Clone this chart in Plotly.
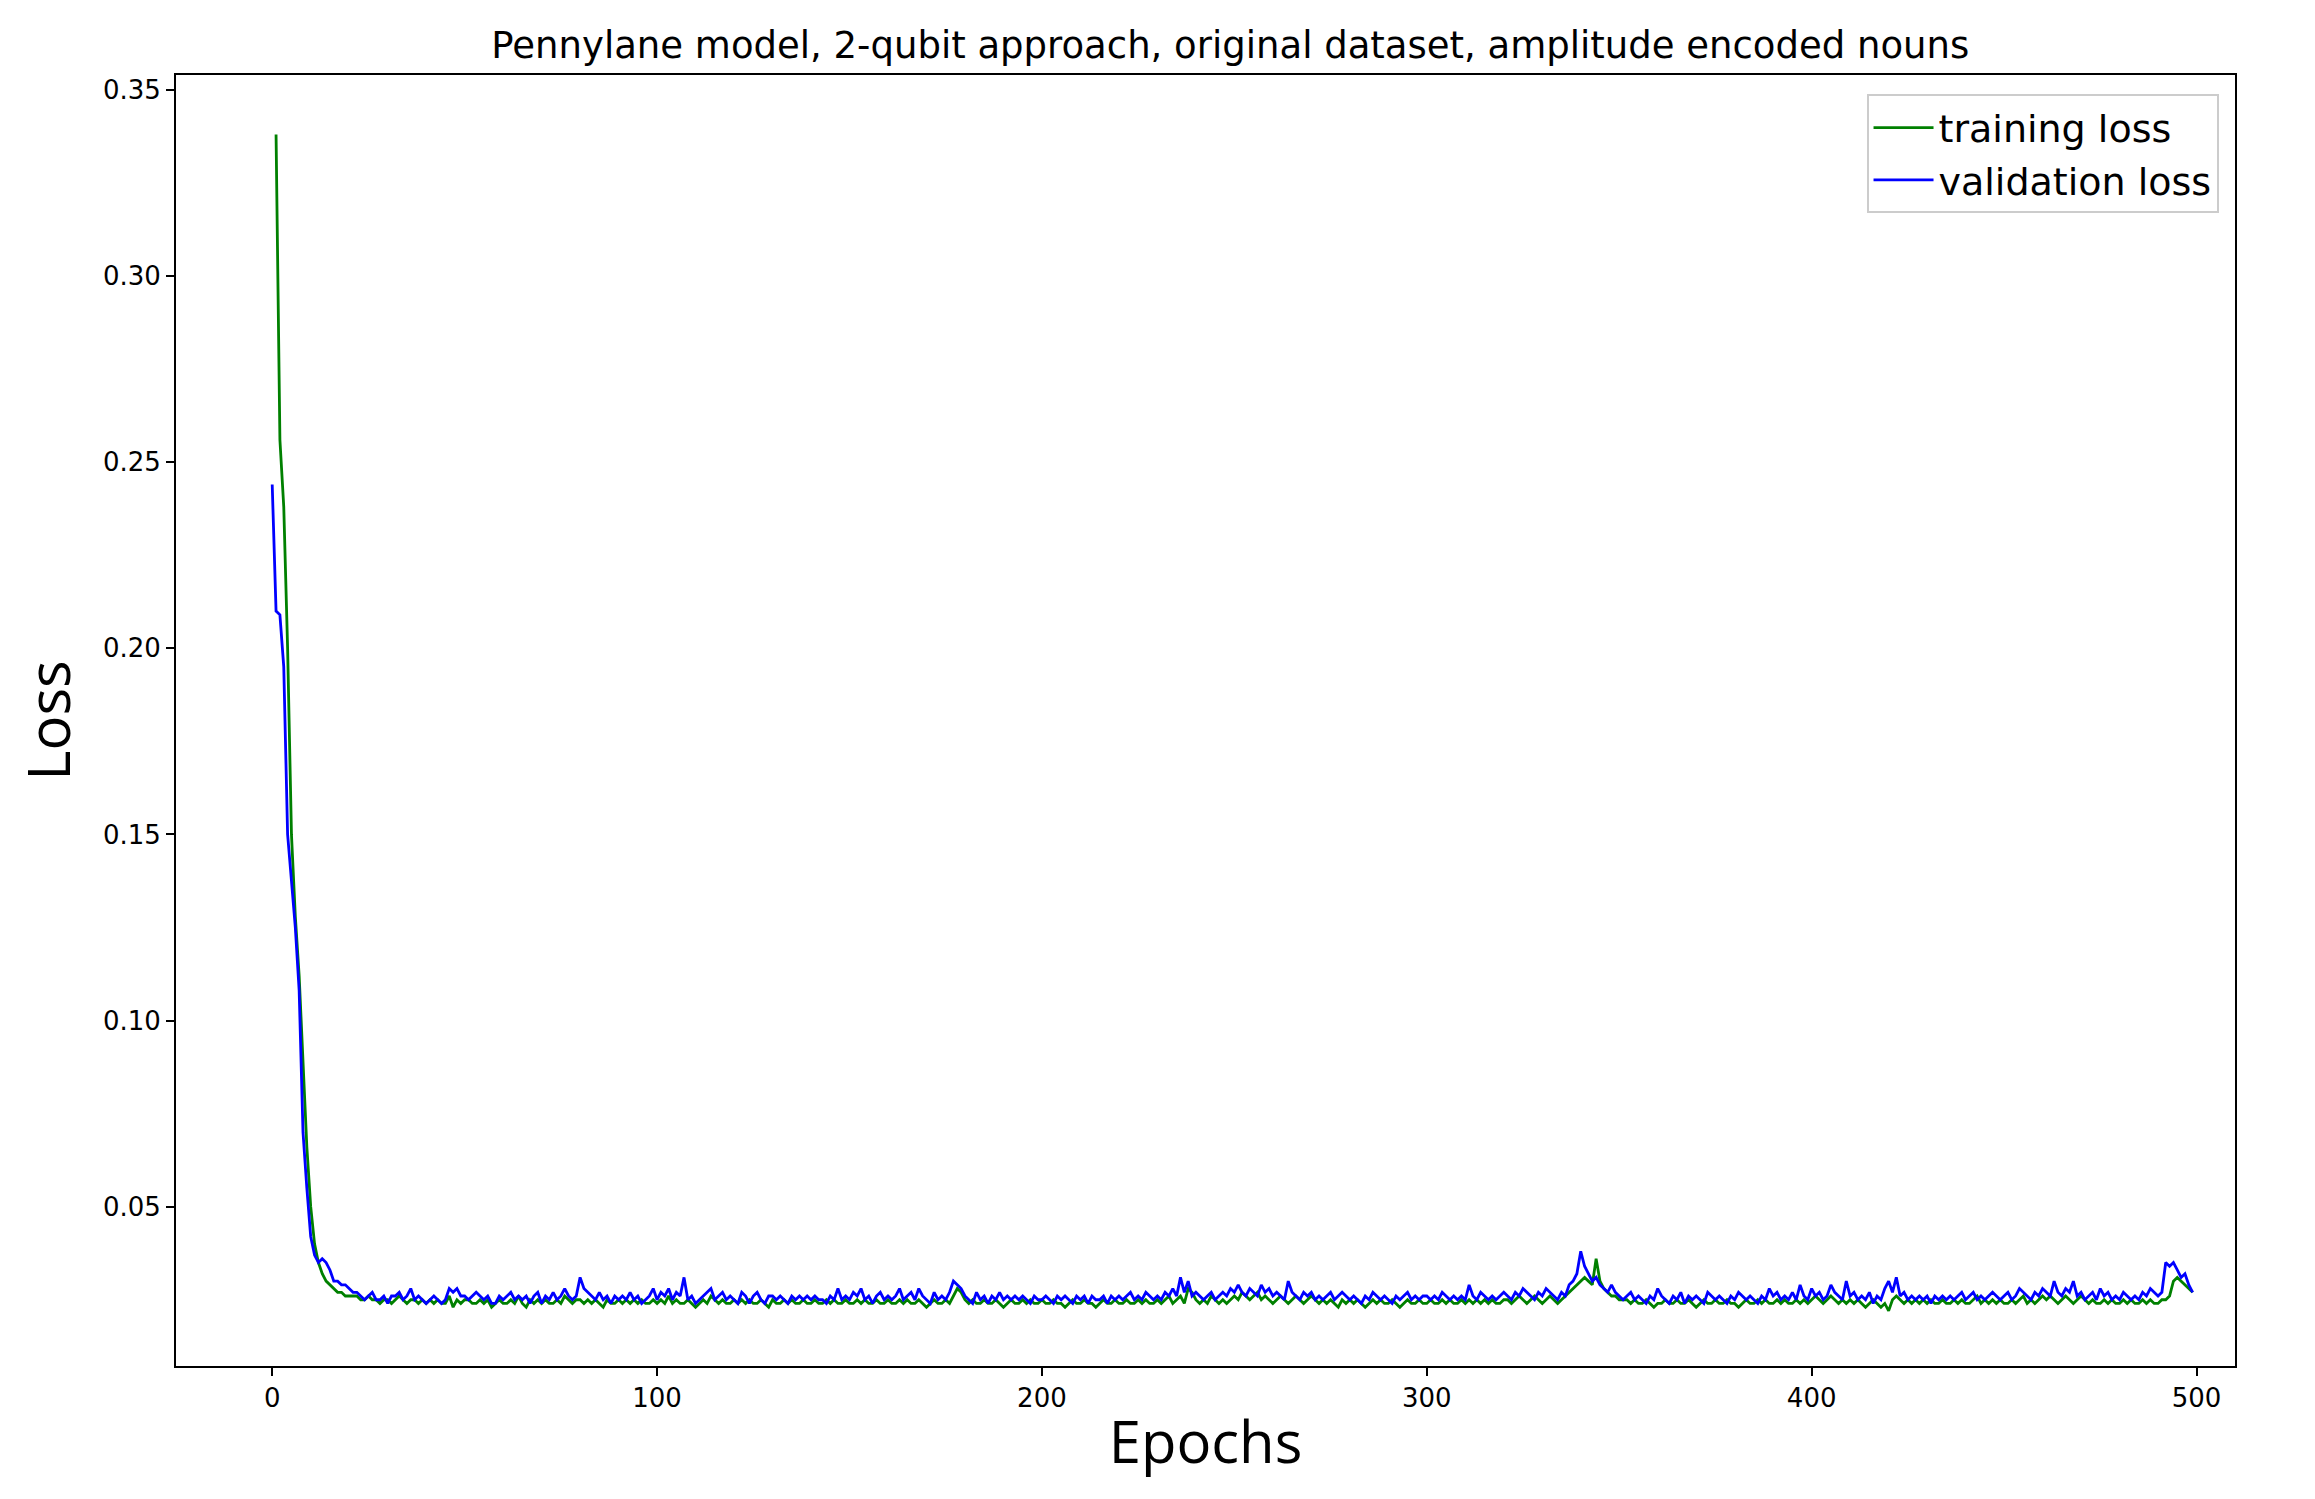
import plotly.graph_objects as go

# losses in thousandths
train_milli = [
    338, 256, 238, 200, 150, 128, 112, 90, 66, 50, 40, 35, 32, 30, 29, 28, 27, 27, 26, 26,
    26, 26, 25, 25, 26, 25, 25, 24, 25, 25, 24, 25, 26, 25, 24, 25, 25, 24, 25, 24,
    25, 24, 25, 24, 24, 26, 23, 25, 24, 25, 25, 24, 24, 25, 24, 25, 23, 24, 25, 24,
    24, 25, 24, 26, 24, 23, 25, 24, 25, 24, 25, 24, 24, 25, 24, 26, 25, 24, 25, 25,
    24, 25, 24, 25, 24, 23, 25, 24, 24, 25, 24, 25, 24, 25, 24, 25, 24, 24, 25, 24,
    25, 24, 26, 24, 25, 24, 24, 25, 24, 23, 24, 25, 24, 26, 25, 24, 25, 24, 24, 25,
    24, 25, 24, 25, 24, 24, 25, 24, 23, 25, 24, 24, 25, 24, 25, 24, 24, 25, 24, 24,
    25, 24, 24, 25, 24, 25, 24, 24, 25, 24, 24, 25, 24, 25, 24, 24, 25, 24, 24, 25,
    24, 24, 25, 24, 25, 24, 24, 25, 24, 23, 24, 25, 24, 24, 25, 24, 26, 28, 27, 25,
    24, 25, 24, 24, 25, 24, 24, 25, 24, 23, 24, 25, 24, 24, 25, 24, 25, 24, 24, 25,
    24, 24, 25, 24, 24, 23, 24, 25, 24, 24, 25, 24, 24, 23, 24, 25, 24, 24, 25, 24,
    24, 25, 24, 24, 25, 24, 25, 24, 24, 25, 24, 25, 26, 24, 25, 26, 24, 28, 27, 25,
    24, 25, 24, 26, 25, 24, 25, 24, 25, 26, 25, 27, 26, 25, 26, 27, 25, 26, 25, 24,
    25, 26, 25, 24, 25, 26, 25, 24, 25, 26, 25, 24, 25, 24, 25, 24, 23, 25, 24, 25,
    24, 25, 24, 23, 24, 25, 24, 25, 24, 24, 25, 24, 23, 24, 25, 24, 24, 25, 24, 24,
    25, 24, 24, 25, 24, 25, 24, 24, 25, 24, 25, 24, 25, 24, 25, 24, 25, 24, 24, 25,
    25, 24, 25, 26, 25, 24, 25, 26, 25, 24, 25, 26, 25, 24, 25, 26, 27, 28, 29, 30,
    31, 30, 29, 36, 30, 28, 27, 26, 26, 25, 25, 25, 24, 25, 24, 24, 25, 24, 23, 24,
    24, 25, 24, 24, 25, 24, 24, 25, 24, 23, 24, 25, 24, 24, 25, 24, 24, 25, 24, 24,
    23, 24, 25, 24, 24, 25, 24, 25, 24, 24, 25, 24, 25, 24, 24, 25, 24, 25, 24, 25,
    26, 25, 24, 25, 26, 25, 24, 25, 24, 25, 24, 25, 24, 23, 24, 25, 24, 23, 24, 22,
    25, 26, 25, 24, 25, 24, 25, 24, 25, 24, 25, 24, 24, 25, 24, 24, 25, 24, 25, 24,
    24, 25, 26, 24, 25, 24, 25, 24, 25, 24, 24, 25, 24, 25, 26, 24, 25, 24, 25, 26,
    25, 26, 25, 24, 25, 26, 25, 24, 25, 26, 25, 24, 25, 24, 24, 25, 24, 25, 24, 24,
    25, 24, 25, 24, 24, 25, 24, 25, 24, 24, 25, 25, 26, 30, 31, 30, 29, 28, 27,
]

val_milli = [
    244, 210, 209, 195, 150, 138, 125, 108, 70, 55, 42, 37, 35, 36, 35, 33, 30, 30, 29, 29,
    28, 27, 27, 26, 25, 26, 27, 25, 25, 26, 24, 26, 26, 27, 25, 26, 28, 25, 26, 25,
    24, 25, 26, 25, 24, 25, 28, 27, 28, 26, 26, 25, 26, 27, 26, 25, 26, 24, 24, 26,
    25, 26, 27, 25, 26, 25, 26, 24, 26, 27, 24, 26, 25, 27, 25, 26, 28, 26, 25, 26,
    31, 28, 27, 26, 25, 27, 25, 26, 24, 26, 25, 26, 25, 27, 25, 26, 24, 25, 26, 28,
    25, 27, 26, 28, 25, 27, 26, 31, 25, 26, 24, 25, 26, 27, 28, 25, 26, 27, 25, 26,
    25, 24, 27, 26, 24, 26, 27, 25, 24, 26, 26, 25, 26, 25, 24, 26, 25, 26, 25, 26,
    25, 26, 25, 25, 24, 26, 25, 28, 25, 26, 25, 27, 26, 28, 25, 26, 24, 26, 27, 25,
    26, 25, 26, 28, 25, 26, 27, 25, 28, 26, 25, 24, 27, 25, 26, 25, 27, 30, 29, 28,
    26, 25, 24, 27, 25, 26, 24, 26, 25, 27, 25, 26, 25, 26, 25, 26, 25, 24, 26, 25,
    25, 26, 25, 24, 26, 25, 26, 25, 24, 26, 25, 26, 24, 26, 25, 25, 26, 24, 26, 25,
    26, 25, 26, 27, 25, 26, 25, 27, 26, 25, 26, 25, 27, 26, 28, 26, 31, 27, 30, 26,
    27, 26, 25, 26, 27, 25, 26, 27, 26, 28, 27, 29, 27, 26, 28, 27, 26, 29, 27, 28,
    26, 27, 26, 25, 30, 27, 26, 25, 27, 26, 27, 25, 26, 25, 26, 27, 25, 26, 27, 26,
    25, 26, 25, 24, 26, 25, 27, 26, 25, 26, 25, 24, 26, 25, 26, 27, 25, 26, 25, 26,
    26, 25, 26, 25, 27, 26, 25, 26, 25, 26, 25, 29, 26, 25, 27, 26, 25, 26, 25, 26,
    27, 26, 25, 27, 26, 28, 27, 26, 25, 27, 26, 28, 27, 26, 25, 27, 26, 29, 30, 32,
    38, 34, 32, 30, 31, 29, 28, 27, 29, 27, 26, 25, 26, 27, 25, 26, 25, 24, 26, 25,
    28, 26, 25, 24, 26, 25, 27, 24, 26, 25, 26, 25, 24, 27, 26, 25, 26, 25, 24, 26,
    25, 27, 26, 25, 26, 25, 24, 26, 25, 28, 26, 27, 25, 26, 25, 27, 25, 29, 26, 25,
    28, 26, 27, 25, 26, 29, 27, 26, 25, 30, 26, 27, 25, 26, 25, 27, 24, 26, 25, 28,
    30, 27, 31, 26, 27, 25, 26, 25, 26, 25, 26, 24, 26, 25, 26, 25, 26, 25, 26, 27,
    25, 26, 27, 25, 26, 25, 26, 27, 26, 25, 26, 27, 25, 26, 28, 27, 26, 25, 27, 26,
    28, 27, 26, 30, 27, 26, 28, 27, 30, 26, 27, 25, 26, 27, 25, 28, 26, 27, 25, 26,
    25, 27, 26, 25, 26, 25, 27, 26, 28, 27, 26, 27, 35, 34, 35, 33, 31, 32, 29, 27,
]

train_loss = [v / 1000 for v in train_milli]
val_loss = [v / 1000 for v in val_milli]
train_epochs = list(range(1, 1 + len(train_loss)))
val_epochs = list(range(len(val_loss)))

fig = go.Figure()
fig.add_trace(go.Scatter(x=train_epochs, y=train_loss, mode="lines",
                         name="training loss", line=dict(color="green", width=2.8)))
fig.add_trace(go.Scatter(x=val_epochs, y=val_loss, mode="lines",
                         name="validation loss", line=dict(color="blue", width=2.8)))

axis_common = dict(showline=True, linecolor="black", linewidth=2, mirror=True,
                   ticks="outside", ticklen=8, tickwidth=2, tickcolor="black",
                   showgrid=False, zeroline=False,
                   tickfont=dict(family="DejaVu Sans", size=26, color="black"))

fig.update_layout(
    width=2315, height=1499,
    template="none",
    paper_bgcolor="white", plot_bgcolor="white",
    margin=dict(l=168, r=88, t=67, b=141),
    title=dict(text="Pennylane model, 2-qubit approach, original dataset, amplitude encoded nouns",
               x=0.528, xanchor="center", y=0.984, yanchor="top",
               font=dict(family="DejaVu Sans", size=37, color="black")),
    xaxis=dict(range=[-25, 510], tickvals=[0, 100, 200, 300, 400, 500],
               title=dict(text="Epochs", standoff=10,
                          font=dict(family="Open Sans", size=58, color="black")),
               **axis_common),
    yaxis=dict(range=[0.0072, 0.354], tickvals=[0.05, 0.10, 0.15, 0.20, 0.25, 0.30, 0.35],
               tickformat=".2f",
               title=dict(text="Loss", standoff=22,
                          font=dict(family="Open Sans", size=58, color="black")),
               **axis_common),
    legend=dict(x=0.992, y=0.985, xanchor="right", yanchor="top",
                bgcolor="white", bordercolor="#cccccc", borderwidth=2,
                itemwidth=60, tracegroupgap=4,
                font=dict(family="DejaVu Sans", size=38, color="black")),
    showlegend=True,
)

fig.write_html("out.html")
